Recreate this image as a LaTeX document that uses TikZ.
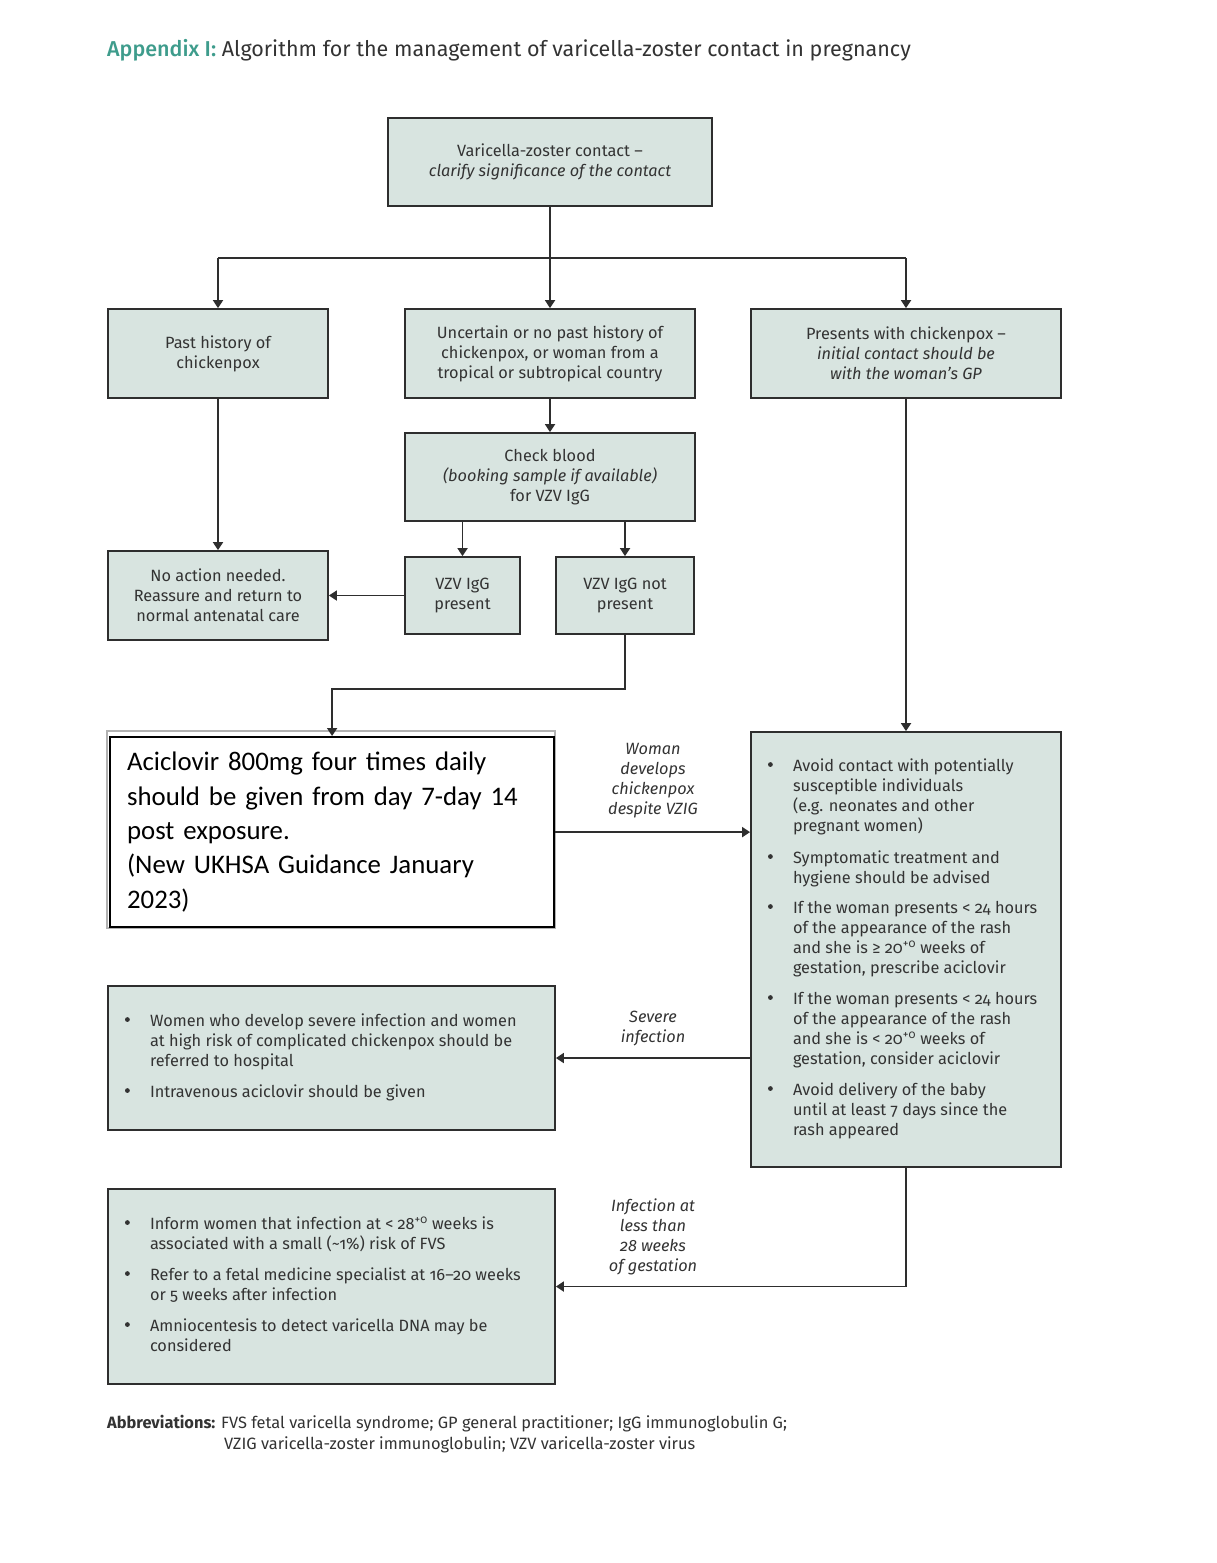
\documentclass[tikz,border=0pt]{standalone}
\usepackage{fontspec}
\setmainfont{Fira Sans}[Numbers=OldStyle]
\newfontfamily\calfont{Carlito}
\usetikzlibrary{arrows.meta}
\definecolor{boxfill}{HTML}{D8E4E0}
\definecolor{bordc}{HTML}{2E2E2E}
\definecolor{textc}{HTML}{333333}
\definecolor{titleteal}{HTML}{3E9C8C}
\newcommand\boxfont{\fontsize{16.3}{20}\selectfont}
\newcommand\blt{\makebox[25pt][l]{\raisebox{0.28em}{\tikz\fill[textc] (0,0) circle (2.4pt);}}}
\newcommand\supo{\textsuperscript{+0}}
\begin{document}
\begin{tikzpicture}[x=1pt,y=-1pt,
  box/.style={draw=bordc, line width=1.8pt, fill=boxfill, inner sep=0pt, align=center, font=\boxfont, text=textc},
  lbl/.style={align=center, font=\boxfont\itshape, text=textc, inner sep=0pt},
  conn/.style={draw=bordc, line width=1.8pt},
  arr/.style={conn, -{Triangle[width=10pt,length=8pt]}}]
\useasboundingbox[fill=white] (0,0) rectangle (1216,1563);

\node[anchor=west, inner sep=0pt, font=\fontsize{21.5}{24}\selectfont, text=textc] (title) at (107,50)
  {\textcolor{titleteal}{\fontspec{Fira Sans Medium}Appendix I:}\ Algorithm for the management of varicella-zoster contact in pregnancy};

\node[box, minimum width=324, minimum height=88] (top) at (550,162)
  {Varicella-zoster contact –\\\textit{clarify significance of the contact}};
\node[box, minimum width=220, minimum height=89] (past) at (218,353.5)
  {Past history of\\chickenpox};
\node[box, minimum width=290, minimum height=89] (unc) at (550,353.5)
  {Uncertain or no past history of\\chickenpox, or woman from a\\tropical or subtropical country};
\node[box, minimum width=310, minimum height=89] (pres) at (906,353.5)
  {Presents with chickenpox –\\\textit{initial contact should be}\\\textit{with the woman’s GP}};
\node[box, minimum width=290, minimum height=88] (check) at (550,477)
  {Check blood\\\textit{(booking sample if available)}\\for VZV IgG};
\node[box, minimum width=220, minimum height=89] (noact) at (218,595.5)
  {No action needed.\\Reassure and return to\\normal antenatal care};
\node[box, minimum width=115, minimum height=77] (vzvp) at (462.5,595.5)
  {VZV IgG\\present};
\node[box, minimum width=138, minimum height=77] (vzvn) at (625,595.5)
  {VZV IgG not\\present};

\draw[draw=gray!60, line width=1.2pt] (107,731) rectangle (555,928);
\node[draw=black, line width=2.2pt, fill=white, anchor=north west, minimum width=444, minimum height=190,
  text width=410pt, inner xsep=17pt, inner ysep=0pt, align=left,
  font=\calfont\fontsize{26.8}{34.4}\selectfont, text=black] (acic) at (109,736)
  {Aciclovir 800mg four times daily\\should be given from day 7-day 14\\post exposure.\\(New UKHSA Guidance January\\2023)};

\node[box, minimum width=310, minimum height=435] (rbox) at (906,949.5)
  {\hbox to 310pt{\hspace{17pt}\begin{tabular}{@{}l@{}l@{}}
  \blt & Avoid contact with potentially\\
       & susceptible individuals\\
       & (e.g. neonates and other\\
       & pregnant women)\\[12pt]
  \blt & Symptomatic treatment and\\
       & hygiene should be advised\\[10pt]
  \blt & If the woman presents < 24 hours\\
       & of the appearance of the rash\\
       & and she is ≥ 20\supo{} weeks of\\
       & gestation, prescribe aciclovir\\[11pt]
  \blt & If the woman presents < 24 hours\\
       & of the appearance of the rash\\
       & and she is < 20\supo{} weeks of\\
       & gestation, consider aciclovir\\[11pt]
  \blt & Avoid delivery of the baby\\
       & until at least 7 days since the\\
       & rash appeared
  \end{tabular}\hss}};

\node[box, minimum width=447, minimum height=144] (sev) at (331.5,1058)
  {\hbox to 447pt{\hspace{17pt}\begin{tabular}{@{}l@{}l@{}}
  \blt & Women who develop severe infection and women\\
       & at high risk of complicated chickenpox should be\\
       & referred to hospital\\[11pt]
  \blt & Intravenous aciclovir should be given
  \end{tabular}\hss}};

\node[box, minimum width=447, minimum height=195] (inf) at (331.5,1286.5)
  {\hbox to 447pt{\hspace{17pt}\begin{tabular}{@{}l@{}l@{}}
  \blt & Inform women that infection at < 28\supo{} weeks is\\
       & associated with a small (\textasciitilde1\%) risk of FVS\\[11pt]
  \blt & Refer to a fetal medicine specialist at 16–20 weeks\\
       & or 5 weeks after infection\\[11pt]
  \blt & Amniocentesis to detect varicella DNA may be\\
       & considered
  \end{tabular}\hss}};

\node[lbl] (lwoman) at (653,781) {Woman\\develops\\chickenpox\\despite VZIG};
\node[lbl] (lsev) at (653,1029) {Severe\\infection};
\node[lbl] (linf) at (653,1237) {Infection at\\less than\\28 weeks\\of gestation};

\node[anchor=north west, inner sep=0pt, align=left, font=\fontsize{16.4}{21}\selectfont, text=textc] (abbr) at (107,1415)
  {\textbf{Abbreviations:} FVS fetal varicella syndrome; GP general practitioner; IgG immunoglobulin G;\\
   \hspace*{117pt}VZIG varicella-zoster immunoglobulin; VZV varicella-zoster virus};

% connectors
\coordinate (hl) at (218,258);
\coordinate (hr) at (906,258);
\coordinate (kb) at (625,689);
\draw[arr] (top.south) -- (unc.north);
\draw[conn] (hl) -- (hr);
\draw[arr] (hl) -- (past.north);
\draw[arr] (hr) -- (pres.north);
\draw[arr] (unc.south) -- (check.north);
\draw[arr] (past.south) -- (noact.north);
\draw[arr] (check.south -| vzvp.north) -- (vzvp.north);
\draw[arr] (check.south -| vzvn.north) -- (vzvn.north);
\draw[arr] (vzvp.west) -- (vzvp.west -| noact.east);
\draw[arr] (vzvn.south) -- (kb) -| (acic.north);
\draw[arr] (pres.south) -- (rbox.north);
\draw[arr] (acic.east) -- (acic.east -| rbox.west);
\draw[arr] (rbox.west |- sev.east) -- (sev.east);
\draw[arr] (rbox.south) |- (inf.east);
\end{tikzpicture}
\end{document}
